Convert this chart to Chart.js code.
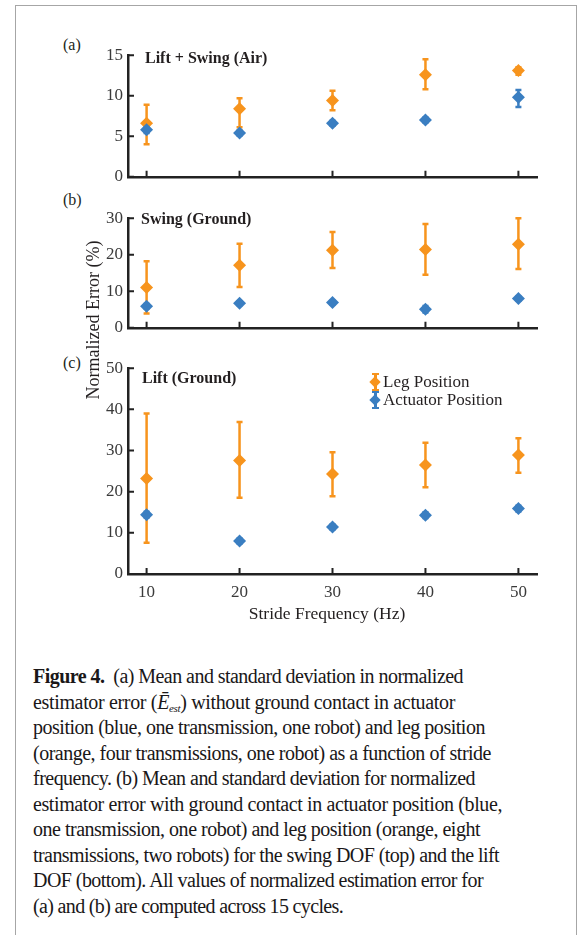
<!DOCTYPE html>
<html>
<head>
<meta charset="utf-8">
<script src="https://cdn.jsdelivr.net/npm/chart.js@4.4.0/dist/chart.umd.min.js"></script>
<style>
  body { margin: 0; background: #fff; }
  #page { position: relative; width: 584px; height: 935px; overflow: hidden;
    font-family: "Liberation Serif", "DejaVu Serif", serif; color: #231f20; }
  #frame { position: absolute; left: 15px; top: 5px; width: 560px; height: 980px;
    border: 1.5px solid #a6a6a6; }
  canvas { position: absolute; }
  .tag { position: absolute; left: 63px; font-size: 16px; line-height: 20px; }
  .ptitle { position: absolute; font-size: 16px; font-weight: bold; line-height: 20px; white-space: nowrap; }
  .legrow { position: absolute; left: 370px; height: 20px; font-size: 17px; line-height: 20px; white-space: nowrap; }
  .legrow span.txt { position: absolute; left: 13px; top: 0; }
  .lm { position: absolute; left: 0; top: 1px; width: 10px; height: 18px; }
  .lm .bar { position: absolute; left: 4px; top: 0; width: 2.5px; height: 18px; }
  .lm .cap { position: absolute; left: 2px; width: 6.5px; height: 2px; }
  .lm .dia { position: absolute; left: 1px; top: 5px; width: 8px; height: 8px; transform: rotate(45deg); }
  #ytitle { position: absolute; left: -7px; top: 309px; width: 200px; text-align: center;
    font-size: 18px; line-height: 22px; transform: rotate(-90deg); white-space: nowrap; }
  #xtitle { position: absolute; left: 227px; top: 602px; width: 200px; text-align: center;
    font-size: 17.5px; line-height: 22px; white-space: nowrap; }
  #caption { position: absolute; left: 33px; top: 664px; font-size: 20px; line-height: 25.5px; color: #1a1718; }
  #caption div { white-space: nowrap; }
  #caption span { display: inline-block; }
  sub { font-size: 11px; vertical-align: -3px; line-height: 0; }
</style>
</head>
<body>
<div id="page">
  <div id="frame"></div>

  <div class="tag" style="top:35px">(a)</div>
  <div class="tag" style="top:190px">(b)</div>
  <div class="tag" style="top:353px">(c)</div>

  <canvas id="chartAir" width="490" height="152" style="left:60px;top:40px"></canvas>
  <canvas id="chartSwing" width="490" height="140" style="left:60px;top:203px"></canvas>
  <canvas id="chartLift" width="490" height="250" style="left:60px;top:353px"></canvas>

  <div class="ptitle" style="left:145px;top:48px">Lift + Swing (Air)</div>
  <div class="ptitle" style="left:141px;top:209px">Swing (Ground)</div>
  <div class="ptitle" style="left:142px;top:368px">Lift (Ground)</div>

  <div class="legrow" style="top:372px">
    <div class="lm"><div class="bar" style="background:#F7941D"></div><div class="cap" style="top:0;background:#F7941D"></div><div class="cap" style="bottom:0;background:#F7941D"></div><div class="dia" style="background:#F7941D"></div></div>
    <span class="txt">Leg Position</span>
  </div>
  <div class="legrow" style="top:390px">
    <div class="lm"><div class="bar" style="background:#3A7EC1"></div><div class="cap" style="top:0;background:#3A7EC1"></div><div class="cap" style="bottom:0;background:#3A7EC1"></div><div class="dia" style="background:#3A7EC1"></div></div>
    <span class="txt">Actuator Position</span>
  </div>

  <div id="ytitle">Normalized Error (%)</div>
  <div id="xtitle">Stride Frequency (Hz)</div>

  <div id="caption">
    <div data-w="430"><span><b>Figure 4.</b>&nbsp; (a) Mean and standard deviation in normalized</span></div>
    <div data-w="422"><span>estimator error (<i>Ē</i><sub><i>est</i></sub>) without ground contact in actuator</span></div>
    <div data-w="452"><span>position (blue, one transmission, one robot) and leg position</span></div>
    <div data-w="458"><span>(orange, four transmissions, one robot) as a function of stride</span></div>
    <div data-w="442"><span>frequency. (b) Mean and standard deviation for normalized</span></div>
    <div data-w="469"><span>estimator error with ground contact in actuator position (blue,</span></div>
    <div data-w="447"><span>one transmission, one robot) and leg position (orange, eight</span></div>
    <div data-w="466"><span>transmissions, two robots) for the swing DOF (top) and the lift</span></div>
    <div data-w="450"><span>DOF (bottom). All values of normalized estimation error for</span></div>
    <div data-w="310"><span>(a) and (b) are computed across 15 cycles.</span></div>
  </div>
</div>

<script>
const freqs = [10, 20, 30, 40, 50]
const xTicks = [10, 20, 30, 40, 50]

// (a) Lift + Swing (Air)
const airTicks = [0, 5, 10, 15]
const airLegMean = [6.6, 8.4, 9.4, 12.6, 13.1]
const airLegLow = [4.0, 6.1, 8.2, 10.8, 12.6]
const airLegHigh = [8.9, 9.7, 10.6, 14.5, 13.5]
const airActMean = [5.8, 5.4, 6.6, 7.0, 9.8]
const airActLow = [5.4, 5.1, 6.3, 6.7, 8.6]
const airActHigh = [6.2, 5.7, 6.9, 7.3, 10.7]

// (b) Swing (Ground)
const swingTicks = [0, 10, 20, 30]
const swingLegMean = [11.0, 17.1, 21.2, 21.4, 22.9]
const swingLegLow = [3.9, 11.2, 16.4, 14.5, 16.1]
const swingLegHigh = [18.2, 23.0, 26.2, 28.4, 30.0]
const swingActMean = [5.9, 6.7, 6.9, 5.1, 8.0]
const swingActLow = [5.3, 6.2, 6.4, 4.2, 7.4]
const swingActHigh = [6.5, 7.2, 7.4, 6.0, 8.6]

// (c) Lift (Ground)
const liftTicks = [0, 10, 20, 30, 40, 50]
const liftLegMean = [23.2, 27.6, 24.3, 26.5, 28.9]
const liftLegLow = [7.6, 18.5, 18.9, 21.1, 24.6]
const liftLegHigh = [39.0, 36.9, 29.6, 31.9, 33.0]
const liftActMean = [14.4, 8.0, 11.4, 14.3, 15.9]
const liftActLow = [13.7, 7.4, 10.8, 13.6, 15.2]
const liftActHigh = [15.1, 8.6, 12.0, 15.0, 16.6]

const ORANGE = "#F7941D"
const BLUE = "#3A7EC1"
const SERIF = "'Liberation Serif', 'DejaVu Serif', serif"
const tickFont = { family: SERIF, size: 17 }

Chart.defaults.font.family = SERIF
Chart.defaults.color = "#3a3a3a"

// error bars, drawn under the diamonds
const errorBars = {
  id: "errorBars",
  beforeDatasetsDraw(chart) {
    const { ctx, scales: { x, y } } = chart
    chart.data.datasets.forEach(ds => {
      ctx.save()
      ctx.strokeStyle = ds.backgroundColor
      ctx.lineWidth = 2.5
      ds.data.forEach(p => {
        const px = x.getPixelForValue(p.x)
        const top = y.getPixelForValue(p.yMax)
        const bot = y.getPixelForValue(p.yMin)
        ctx.beginPath()
        ctx.moveTo(px, top); ctx.lineTo(px, bot)
        ctx.moveTo(px - 3, top); ctx.lineTo(px + 3, top)
        ctx.moveTo(px - 3, bot); ctx.lineTo(px + 3, bot)
        ctx.stroke()
      })
      ctx.restore()
    })
  }
}

// matlab style ticks pointing into the plot
const innerTicks = {
  id: "innerTicks",
  afterDraw(chart) {
    const { ctx, chartArea: a, scales: { x, y } } = chart
    ctx.save()
    ctx.strokeStyle = "#222"
    ctx.lineWidth = 2
    ctx.beginPath()
    x.ticks.forEach(t => {
      const px = x.getPixelForValue(t.value)
      ctx.moveTo(px, a.bottom); ctx.lineTo(px, a.bottom - 6)
    })
    y.ticks.forEach(t => {
      const py = y.getPixelForValue(t.value)
      ctx.moveTo(a.left, py); ctx.lineTo(a.left + 6, py)
    })
    ctx.stroke()
    ctx.restore()
  }
}

function points(mean, low, high) {
  return freqs.map((f, i) => ({ x: f, y: mean[i], yMin: low[i], yMax: high[i] }))
}

function makePanel(el, area, canvasTop, canvasH, yTicks, leg, act, showX) {
  const canvasLeft = 60, canvasW = 490
  return new Chart(document.getElementById(el), {
    type: "scatter",
    data: {
      datasets: [
        { label: "Leg Position", data: points(...leg), backgroundColor: ORANGE,
          borderWidth: 0, pointStyle: "rectRot", pointRadius: 6.5, order: 2 },
        { label: "Actuator Position", data: points(...act), backgroundColor: BLUE,
          borderWidth: 0, pointStyle: "rectRot", pointRadius: 6.5, order: 1 }
      ]
    },
    options: {
      responsive: false,
      animation: false,
      layout: { padding: { top: area.T - canvasTop, right: canvasLeft + canvasW - area.R, left: 0, bottom: 0 } },
      plugins: { legend: { display: false }, tooltip: { enabled: false } },
      scales: {
        x: {
          type: "linear", min: 8, max: 52,
          grid: { display: false, drawTicks: false },
          border: { display: true, color: "#222", width: 2.5 },
          ticks: { display: showX, padding: 8, font: tickFont, color: "#3a3a3a" },
          afterBuildTicks: s => { s.ticks = xTicks.map(v => ({ value: v })) },
          afterFit: s => { s.height = canvasTop + canvasH - area.B }
        },
        y: {
          min: yTicks[0], max: yTicks[yTicks.length - 1],
          grid: { display: false, drawTicks: false },
          border: { display: true, color: "#222", width: 2.5 },
          ticks: { padding: 5, font: tickFont, color: "#3a3a3a" },
          afterBuildTicks: s => { s.ticks = yTicks.map(v => ({ value: v })) },
          afterFit: s => { s.width = area.L - canvasLeft }
        }
      }
    },
    plugins: [errorBars, innerTicks]
  })
}

makePanel("chartAir", { L: 128, R: 537, T: 50, B: 189 }, 40, 152, airTicks,
  [airLegMean, airLegLow, airLegHigh], [airActMean, airActLow, airActHigh], false)
makePanel("chartSwing", { L: 128, R: 537, T: 213, B: 340 }, 203, 140, swingTicks,
  [swingLegMean, swingLegLow, swingLegHigh], [swingActMean, swingActLow, swingActHigh], false)
makePanel("chartLift", { L: 128, R: 537, T: 363, B: 574 }, 353, 250, liftTicks,
  [liftLegMean, liftLegLow, liftLegHigh], [liftActMean, liftActLow, liftActHigh], true)

// squeeze each caption line to the width it has in the printed figure
document.querySelectorAll("#caption div").forEach(line => {
  const span = line.querySelector("span")
  const target = +line.dataset.w
  const n = span.textContent.length
  const w = span.getBoundingClientRect().width
  span.style.letterSpacing = ((target - w) / n) + "px"
})
</script>
</body>
</html>
